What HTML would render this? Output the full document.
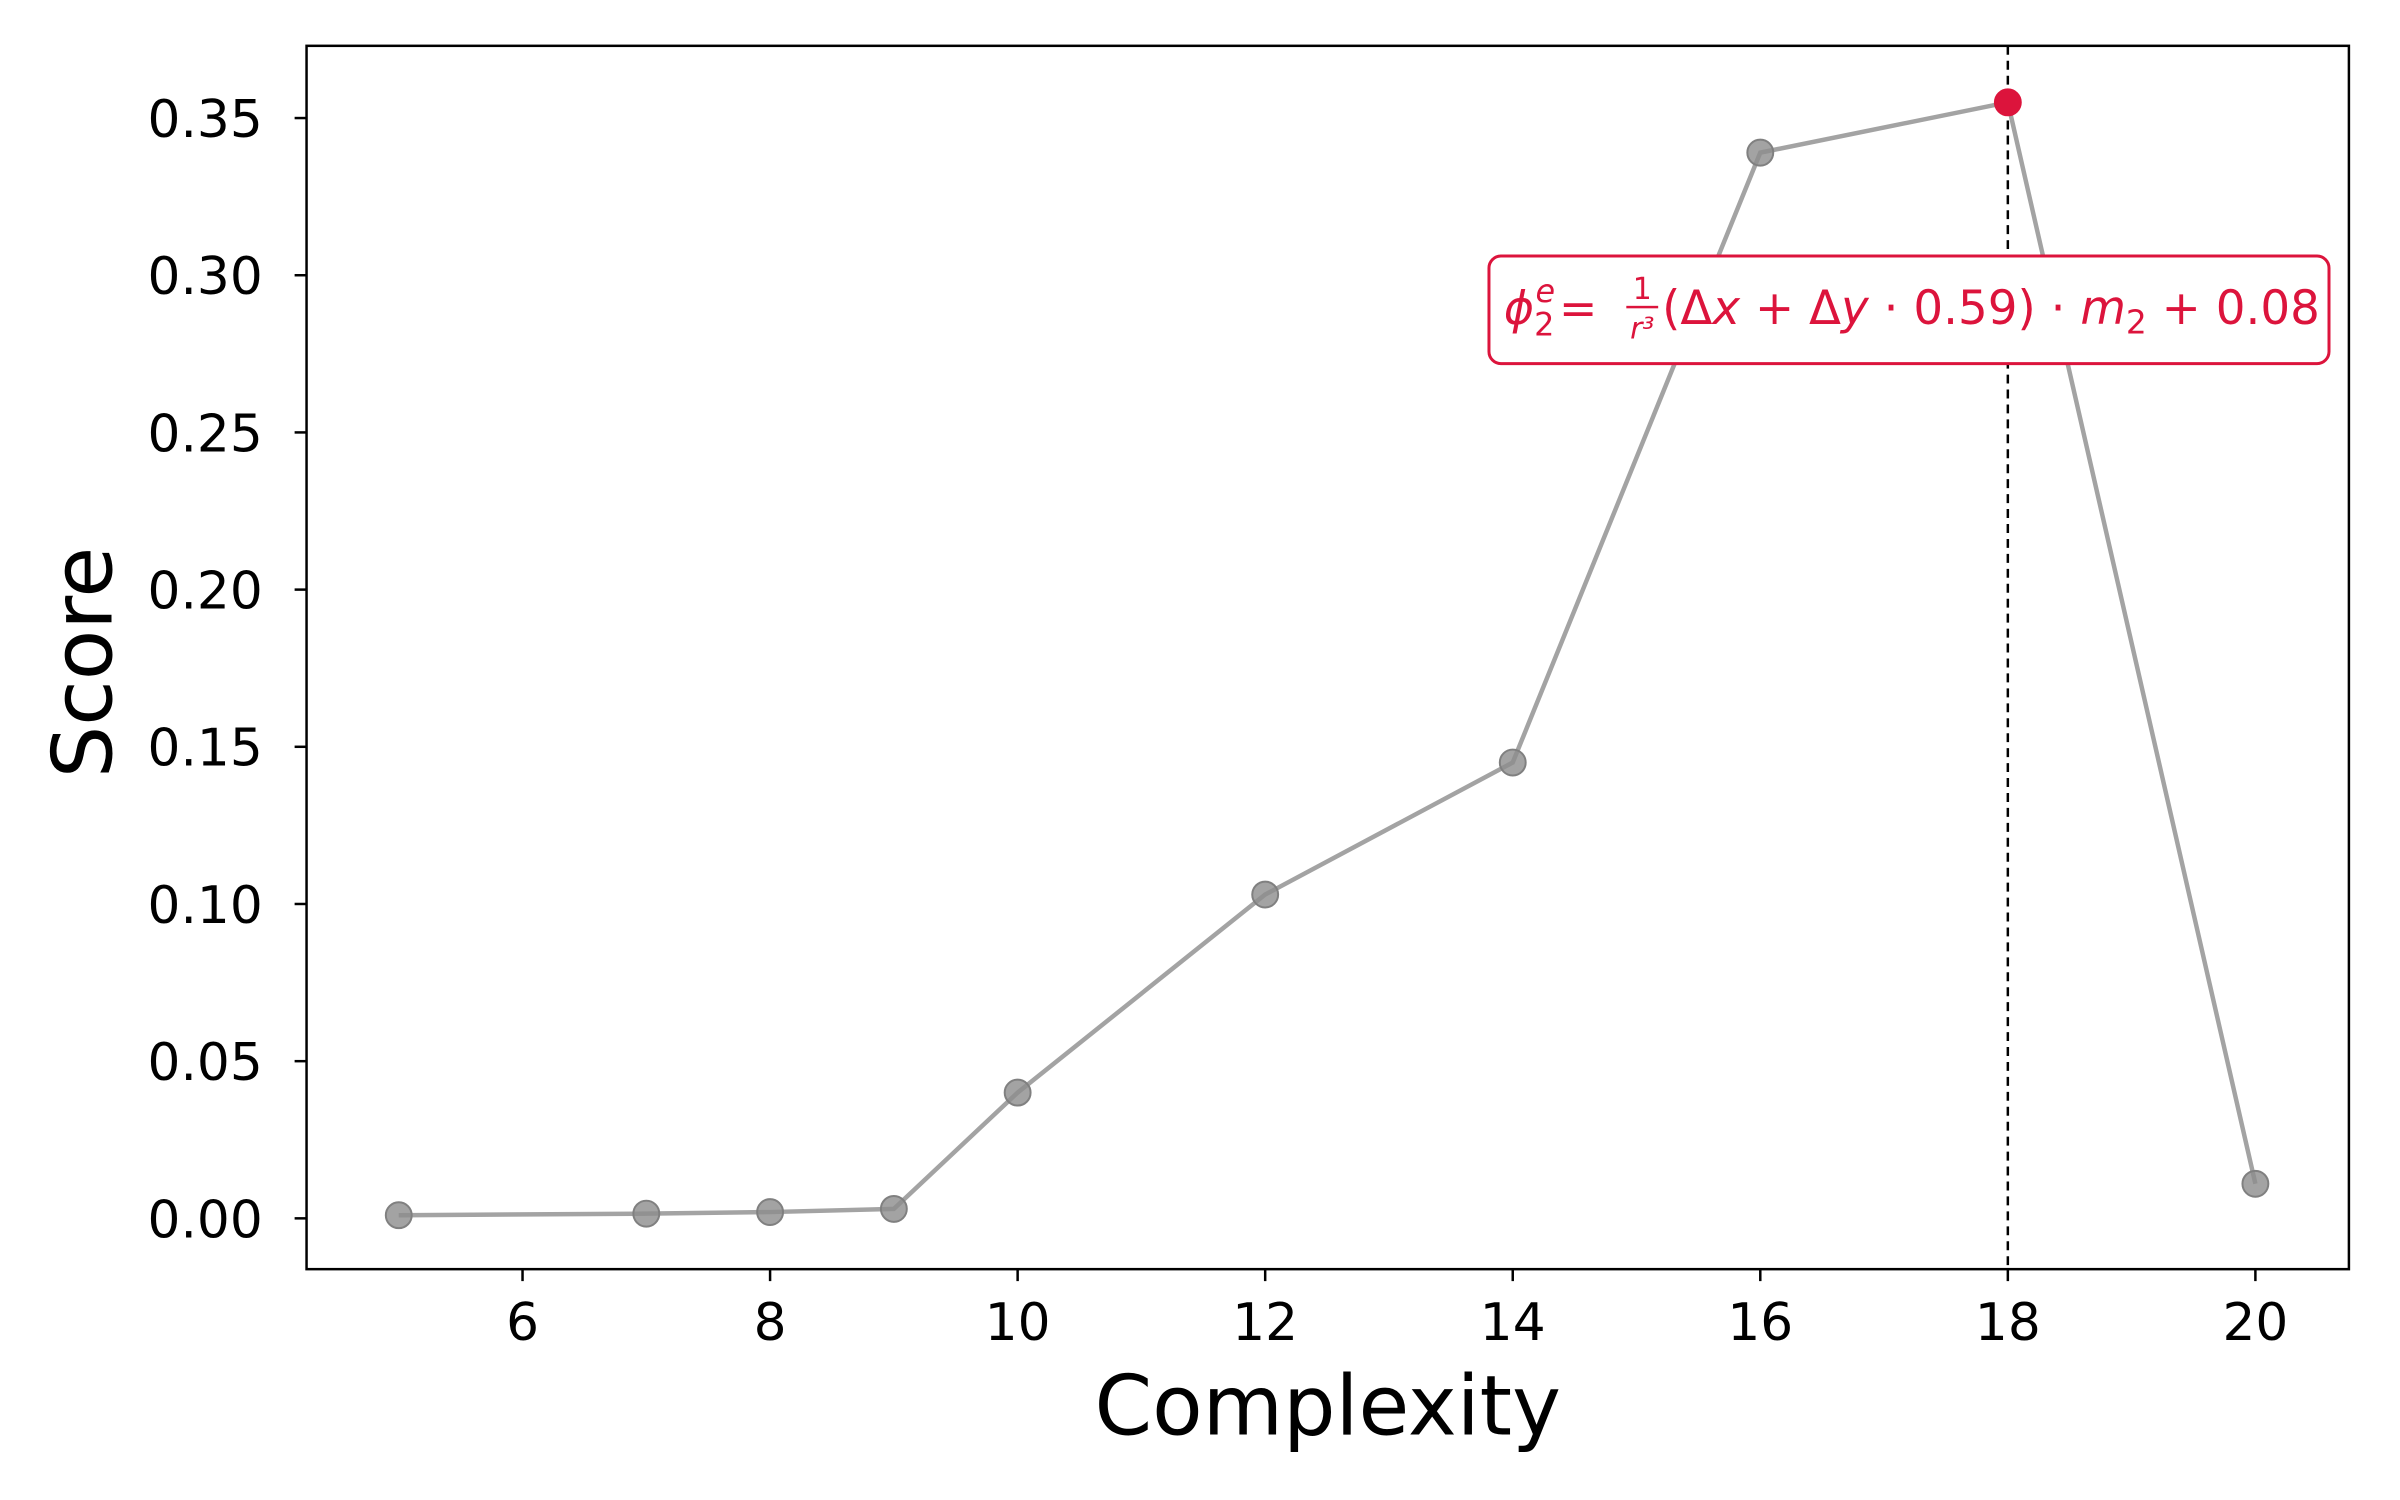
<!DOCTYPE html>
<html><head><meta charset="utf-8"><style>
html,body{margin:0;padding:0;background:#fff;}
svg{display:block;font-family:"DejaVu Sans","Liberation Sans",sans-serif;}
</style></head><body>
<svg id="chart" width="2400" height="1500" viewBox="0 0 2400 1500">
<rect width="2400" height="1500" fill="#fff"/>
<g transform="scale(0.9953,0.9962)">
<g id="series"></g>
<rect x="308" y="46" width="2052" height="1228" fill="none" stroke="#000" stroke-width="2.5"/>
<g id="axes"></g>
<text x="1334" y="1440" font-size="83" text-anchor="middle">Complexity</text>
<text transform="translate(112,665) rotate(-90)" font-size="83" text-anchor="middle">Score</text>
<g fill="#dc143c">
<rect x="1496" y="257" width="844" height="108" rx="12" fill="#fff" stroke="#dc143c" stroke-width="3"/>
<text x="1511" y="325" font-size="46"><tspan font-style="italic">ϕ</tspan><tspan font-size="32" dy="12">2</tspan><tspan font-size="32" font-style="italic" dx="-19" dy="-34">e</tspan><tspan dy="22" dx="4">=</tspan></text>
<text x="1650" y="300" font-size="30" text-anchor="middle">1</text>
<rect x="1634" y="307" width="32" height="2.5"/>
<text x="1650" y="340" font-size="30" font-style="italic" text-anchor="middle">r³</text>
<text x="1670" y="325" font-size="47">(Δ<tspan font-style="italic">x</tspan> + Δ<tspan font-style="italic">y</tspan> · 0.59) · <tspan font-style="italic">m</tspan><tspan font-size="33" dy="10">2</tspan><tspan dy="-10"> + 0.08</tspan></text>
</g>
</g>
</svg>
<script>
const xValues=[5,7,8,9,10,12,14,16,18,20];
const scores=[0.001,0.0015,0.002,0.003,0.040,0.103,0.145,0.339,0.355,0.011];
const bestX=18;
const xTicks=[6,8,10,12,14,16,18,20];
const yTicks=[0,0.05,0.10,0.15,0.20,0.25,0.30,0.35];
const yTickLabels=["0.00","0.05","0.10","0.15","0.20","0.25","0.30","0.35"];
const NS="http://www.w3.org/2000/svg";
function sx(v){return 525+(v-6)*124.36;}
function sy(v){return 1223-v*(1223-118.5)/0.35;}
function mk(tag,attrs,parent){const e=document.createElementNS(NS,tag);for(const k in attrs)e.setAttribute(k,attrs[k]);parent.appendChild(e);return e;}
const axes=document.getElementById('axes'),series=document.getElementById('series');
xTicks.forEach(t=>{
 const l=mk('line',{x1:sx(t),x2:sx(t),y1:1274,y2:1286,stroke:'#000','stroke-width':2.5},axes);
 
 
 const tx=mk('text',{x:sx(t),y:1345,'font-size':52,'text-anchor':'middle'},axes);
 tx.textContent=t;
 
 
});
yTicks.forEach((t,i)=>{
 const l=mk('line',{x1:296,x2:308,y1:sy(t),y2:sy(t),stroke:'#000','stroke-width':2.5},axes);
 
 
 const tx=mk('text',{x:264,y:sy(t)+19,'font-size':52,'text-anchor':'end'},axes);
 tx.textContent=yTickLabels[i];
 
 
});
const vl=mk('line',{x1:sx(bestX),x2:sx(bestX),y1:46,y2:1274,stroke:'#000','stroke-width':2.5,'stroke-dasharray':'9,6'},series);


const pl=mk('polyline',{points:xValues.map((x,i)=>sx(x)+','+sy(scores[i])).join(' '),fill:'none',stroke:'#a3a3a3','stroke-width':4.5},series);


xValues.forEach((x,i)=>{
 const best=x===bestX;
 const c=mk('circle',{cx:sx(x),cy:sy(scores[i]),r:13,fill:best?'#dc143c':'#8c8c8c','fill-opacity':best?1:0.8,stroke:best?'#dc143c':'#808080','stroke-width':2},series);
 
 
});
</script>
</body></html>
